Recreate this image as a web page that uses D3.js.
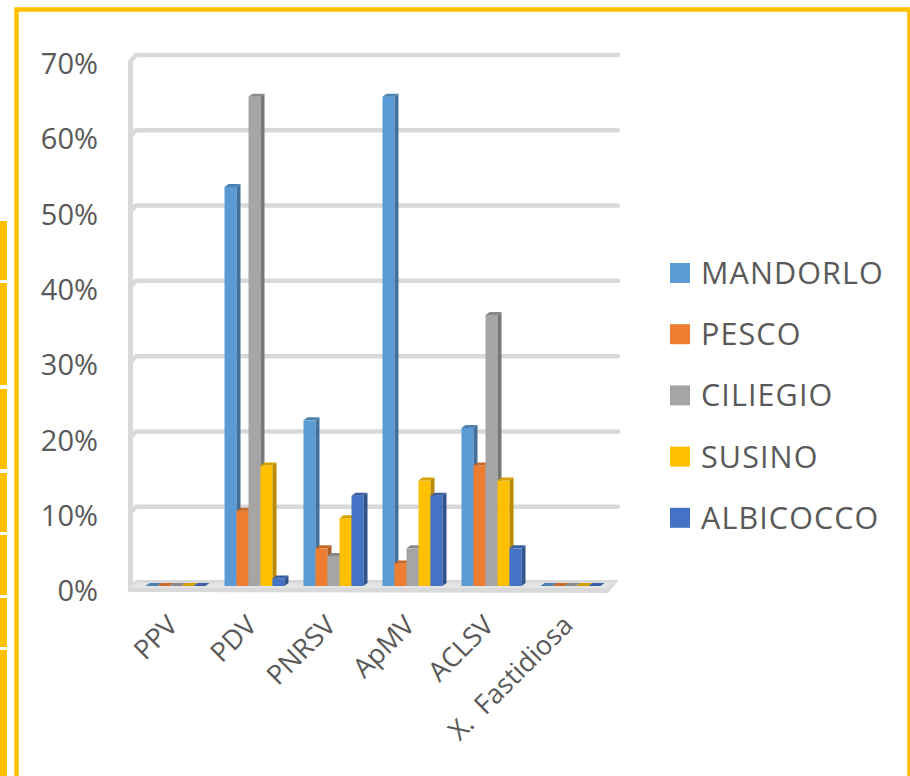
<!DOCTYPE html>
<html><head><meta charset="utf-8">
<script src="https://cdn.jsdelivr.net/npm/d3@7"></script>
<style>html,body{margin:0;padding:0;background:#fff;}svg{display:block;font-family:"Open Sans",sans-serif;}</style>
</head><body>
<svg id="c" width="910" height="776"></svg>
<script>
const categories = ["PPV","PDV","PNRSV","ApMV","ACLSV","X.  Fastidiosa"];
const seriesNames = ["MANDORLO","PESCO","CILIEGIO","SUSINO","ALBICOCCO"];
const seriesColors = ["#5B9BD5","#ED7D31","#A5A5A5","#FFC000","#4472C4"];
const mandorlo  = [0, 53, 22, 65, 21, 0];
const pesco     = [0, 10,  5,  3, 16, 0];
const ciliegio  = [0, 65,  4,  5, 36, 0];
const susino    = [0, 16,  9, 14, 14, 0];
const albicocco = [0,  1, 12, 12,  5, 0];
const yTicks = [0,10,20,30,40,50,60,70];

const series = [mandorlo, pesco, ciliegio, susino, albicocco];
const svg = d3.select("#c");

// spreadsheet cell fragments at the far left
const cellRanges = [[221,280],[283,385],[389,469],[473,532],[535,595],[598,647],[650,776]];
svg.selectAll("rect.cell").data(cellRanges).enter().append("rect")
  .attr("x",0).attr("y",d=>d[0]).attr("width",7).attr("height",d=>d[1]-d[0]).attr("fill","#FFC000");

// chart frame
svg.append("rect").attr("x",16.5).attr("y",9.5).attr("width",893).attr("height",800)
  .attr("fill","#fff").attr("stroke","#FFC000").attr("stroke-width",4.5);

const x0 = d3.scaleBand().domain(categories).range([136,610]).paddingInner(0).paddingOuter(0);
const barW = 12;
const y = d3.scaleLinear().domain([0,70]).range([586,59]);
const dep = 3;
const back = {dx:5, dy:-4};

const g = svg.append("g");
g.append("line").attr("x1",130.5).attr("x2",130.5).attr("y1",y(70)+2).attr("y2",591)
  .attr("stroke","#D9D9D9").attr("stroke-width",5);
yTicks.filter(t=>t>0).forEach(t=>{
  const yy = y(t)+back.dy;
  g.append("path").attr("d",`M130.5,${yy+6} L${136},${yy} L618,${yy}`)
    .attr("fill","none").attr("stroke","#D9D9D9").attr("stroke-width",4.5).attr("stroke-linecap","round");
});
g.append("path").attr("d",`M128,592 L135,580 L619,580 L608,593 Z`).attr("fill","#D9D9D9");
g.append("path").attr("d",`M136,583 L614,583 L606,588 L131,588 Z`).attr("fill","#E4E4E4");

svg.selectAll("text.yl").data(yTicks).enter().append("text")
  .attr("x",98).attr("y",d=>y(d)+5).attr("dy","0.35em").attr("text-anchor","end")
  .attr("font-size",29).attr("fill","#595959").text(d=>d+"%");

categories.forEach((c,ci)=>{
  const gx = x0(c) + (x0.bandwidth() - barW*seriesNames.length)/2;
  series.forEach((s,si)=>{
    const v = s[ci];
    const col = d3.color(seriesColors[si]);
    const xl = gx + si*barW, xr = xl + barW;
    const yt = y(v), yb = y(0);
    const bg = g.append("g");
    if (v>0){
      bg.append("rect").attr("x",xl).attr("y",yt).attr("width",barW).attr("height",yb-yt).attr("fill",col.formatHex());
      bg.append("path").attr("d",`M${xr},${yt} L${xr+dep+1},${yt-dep} L${xr+dep+1},${yb-dep} L${xr},${yb} Z`)
        .attr("fill",col.darker(0.9).formatHex());
    }
    bg.append("path").attr("d",`M${xl},${yt} L${xl+dep+1},${yt-dep} L${xr+dep+1},${yt-dep} L${xr},${yt} Z`)
      .attr("fill",col.darker(0.5).formatHex());
  });
});

svg.selectAll("text.xl").data(categories).enter().append("text")
  .attr("transform",d=>`translate(${x0(d)+x0.bandwidth()/2+4},${627}) rotate(-45)`)
  .attr("text-anchor","end").attr("font-size",27).attr("fill","#595959")
  .style("white-space","pre").text(d=>d);

const leg = svg.append("g");
seriesNames.forEach((n,i)=>{
  const cy = 273 + i*61.2;
  leg.append("rect").attr("x",670).attr("y",cy-10).attr("width",20).attr("height",20).attr("fill",seriesColors[i]);
  leg.append("text").attr("x",701).attr("y",cy).attr("dy","0.36em").attr("font-size",30.5)
    .attr("letter-spacing","1.1px").attr("fill","#595959").text(n);
});
</script>
</body></html>
